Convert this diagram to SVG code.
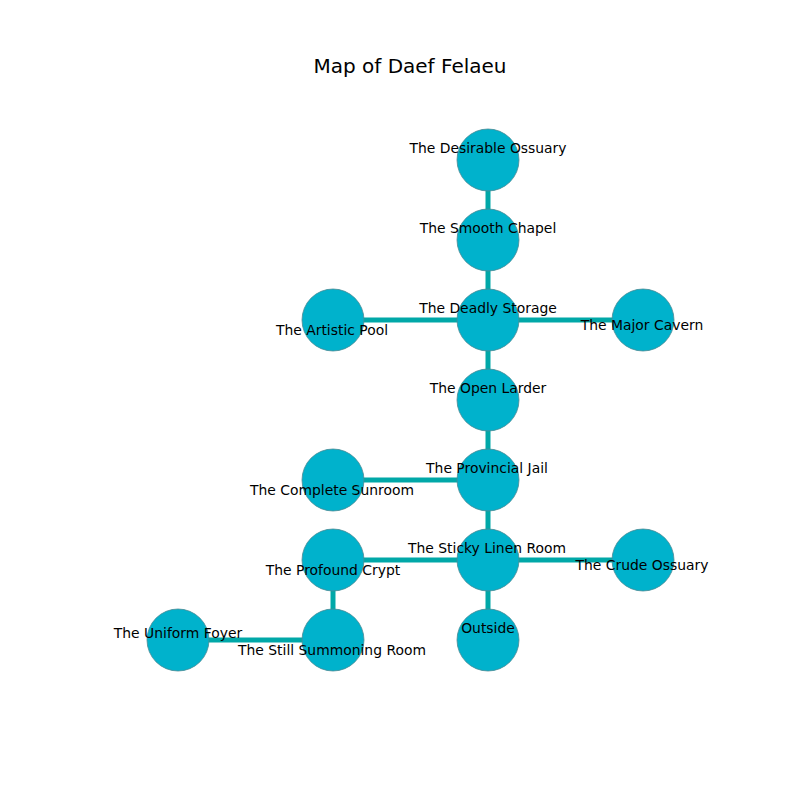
<svg xmlns="http://www.w3.org/2000/svg" width="800" height="800" viewBox="0 0 800 800">
<style>
.n{fill:#00b2cc;stroke:#4a8a94;stroke-width:0.8}
.e{stroke:#00a8a8;stroke-width:5;fill:none}
text{font-family:"DejaVu Sans",sans-serif;font-size:13.9px;fill:#000;text-anchor:middle}
.t{font-size:20px}
</style>
<rect width="800" height="800" fill="#fff"/>
<text class="t" x="410" y="73">Map of Daef Felaeu</text>
<g id="edges">
<line class="e" x1="488" y1="160" x2="488" y2="240"/>
<line class="e" x1="488" y1="240" x2="488" y2="320"/>
<line class="e" x1="333" y1="320" x2="643" y2="320"/>
<line class="e" x1="488" y1="320" x2="488" y2="400"/>
<line class="e" x1="488" y1="400" x2="488" y2="480"/>
<line class="e" x1="333" y1="480" x2="488" y2="480"/>
<line class="e" x1="488" y1="480" x2="488" y2="640"/>
<line class="e" x1="333" y1="560" x2="643" y2="560"/>
<line class="e" x1="333" y1="560" x2="333" y2="640"/>
<line class="e" x1="178" y1="640" x2="333" y2="640"/>
</g>
<g id="desirable-ossuary"><circle class="n" cx="488" cy="160" r="31"/><text x="488" y="153">The Desirable Ossuary</text></g>
<g id="smooth-chapel"><circle class="n" cx="488" cy="240" r="31"/><text x="488" y="233">The Smooth Chapel</text></g>
<g id="deadly-storage"><circle class="n" cx="488" cy="320" r="31"/><text x="488" y="313">The Deadly Storage</text></g>
<g id="artistic-pool"><circle class="n" cx="333" cy="320" r="31"/><text x="332" y="335">The Artistic Pool</text></g>
<g id="major-cavern"><circle class="n" cx="643" cy="320" r="31"/><text x="642" y="330">The Major Cavern</text></g>
<g id="open-larder"><circle class="n" cx="488" cy="400" r="31"/><text x="488" y="393">The Open Larder</text></g>
<g id="provincial-jail"><circle class="n" cx="488" cy="480" r="31"/><text x="487" y="473">The Provincial Jail</text></g>
<g id="complete-sunroom"><circle class="n" cx="333" cy="480" r="31"/><text x="332" y="495">The Complete Sunroom</text></g>
<g id="sticky-linen-room"><circle class="n" cx="488" cy="560" r="31"/><text x="487" y="553">The Sticky Linen Room</text></g>
<g id="profound-crypt"><circle class="n" cx="333" cy="560" r="31"/><text x="333" y="575">The Profound Crypt</text></g>
<g id="crude-ossuary"><circle class="n" cx="643" cy="560" r="31"/><text x="642" y="570">The Crude Ossuary</text></g>
<g id="outside"><circle class="n" cx="488" cy="640" r="31"/><text x="488" y="633">Outside</text></g>
<g id="still-summoning-room"><circle class="n" cx="333" cy="640" r="31"/><text x="332" y="655">The Still Summoning Room</text></g>
<g id="uniform-foyer"><circle class="n" cx="178" cy="640" r="31"/><text x="178" y="638">The Uniform Foyer</text></g>
</svg>
